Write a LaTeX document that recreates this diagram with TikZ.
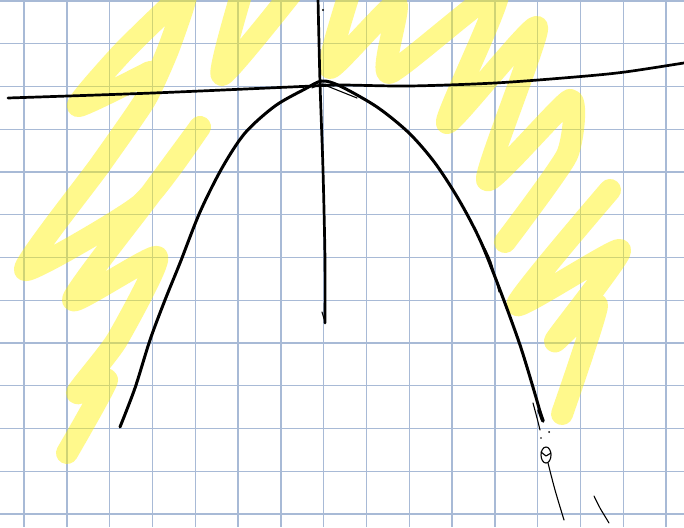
\documentclass[tikz,border=0pt]{standalone}
\usepackage{tikz}
\definecolor{gridblue}{RGB}{168,186,214}
\tikzset{
  gridln/.style  ={draw=gridblue,line width=1.4pt},
  hilite/.style  ={draw=yellow,line width=22pt,opacity=0.45,line cap=round,line join=round},
  ink/.style     ={draw=black,line width=3pt,line cap=round,line join=round},
  thinink/.style ={draw=black,line width=1.1pt,line cap=round,line join=round},
}

\begin{document}
\begin{tikzpicture}[x=1pt,y=-1pt]
  \useasboundingbox (0,0) rectangle (684,527);
  \fill[white] (0,0) rectangle (684,527);
  \foreach \i in {0,...,15} \draw[gridln] ({24+42.8*\i},0) -- ({24+42.8*\i},527);
  \foreach \j in {0,...,12} \draw[gridln] (0,{1+42.75*\j}) -- (684,{1+42.75*\j});
  \draw[hilite] plot[smooth,tension=0.35] coordinates {(150,72) (78,106) (120,55) (168,8) (186,-4) (168,50) (145,100) (100,165) (25,270) (140,205) (200,127) (150,195) (73,300) (157,257) (117,340) (77,393) (107,380) (67,453)};
  \draw[hilite] plot[smooth,tension=0.35] coordinates {(244,-15) (222,75) (298,-15)};
  \draw[hilite] plot[smooth,tension=0.35] coordinates {(352,-15) (330,68) (396,4) (389,73) (498,-8) (447,123) (537,27) (487,180) (570,100) (567,155) (505,242)};
  \draw[hilite] plot[smooth,tension=0.35] coordinates {(610,190) (517,305) (620,250) (555,341) (597,305) (562,414)};
  \draw[ink,line width=2.7pt] plot[smooth] coordinates {(8,98) (153,93) (313,86) (342,85) (409,86) (495,83) (575,77) (625,72) (690,62)};
  \draw[ink,line width=2.7pt] plot[smooth] coordinates {(318,-2) (320,83) (323,170) (325,260) (325,323)};
  \draw[thinink] (322,312) -- (325,322);
  \fill (323,10) circle (1.2);
  \draw[ink] plot[smooth] coordinates {(120,427) (135,388) (150,340) (165,300) (180,263) (200,212) (222,168) (245,133) (275,106) (305,89) (322,81) (340,86) (377,107) (409,133) (435,163) (459,200) (480,240) (500,290) (520,345) (535,394) (542,419)};
  \draw[thinink] plot[smooth] coordinates {(312,88) (322,84) (334,86)};
  \draw[thinink] (327,86) -- (357,98);
  \draw[thinink] plot[smooth] coordinates {(466,213) (481,241) (491,262) (499,292)};
  \draw[ink,line width=3.6pt] (539,410) -- (543,421);
  \draw[thinink] plot[smooth] coordinates {(533,403) (537,418) (540,430)};
  \fill (549,432) circle (1);
  \fill (541,438) circle (0.9);
  \draw[thinink] (546,455) ellipse [x radius=5, y radius=8];
  \draw[thinink] (541,452) -- (546,456) -- (551,453);
  \draw[thinink] plot[smooth] coordinates {(548,463) (555,490) (564,520)};
  \draw[thinink] plot[smooth] coordinates {(594,496) (600,508) (606,518) (609,523)};
\end{tikzpicture}
\end{document}
